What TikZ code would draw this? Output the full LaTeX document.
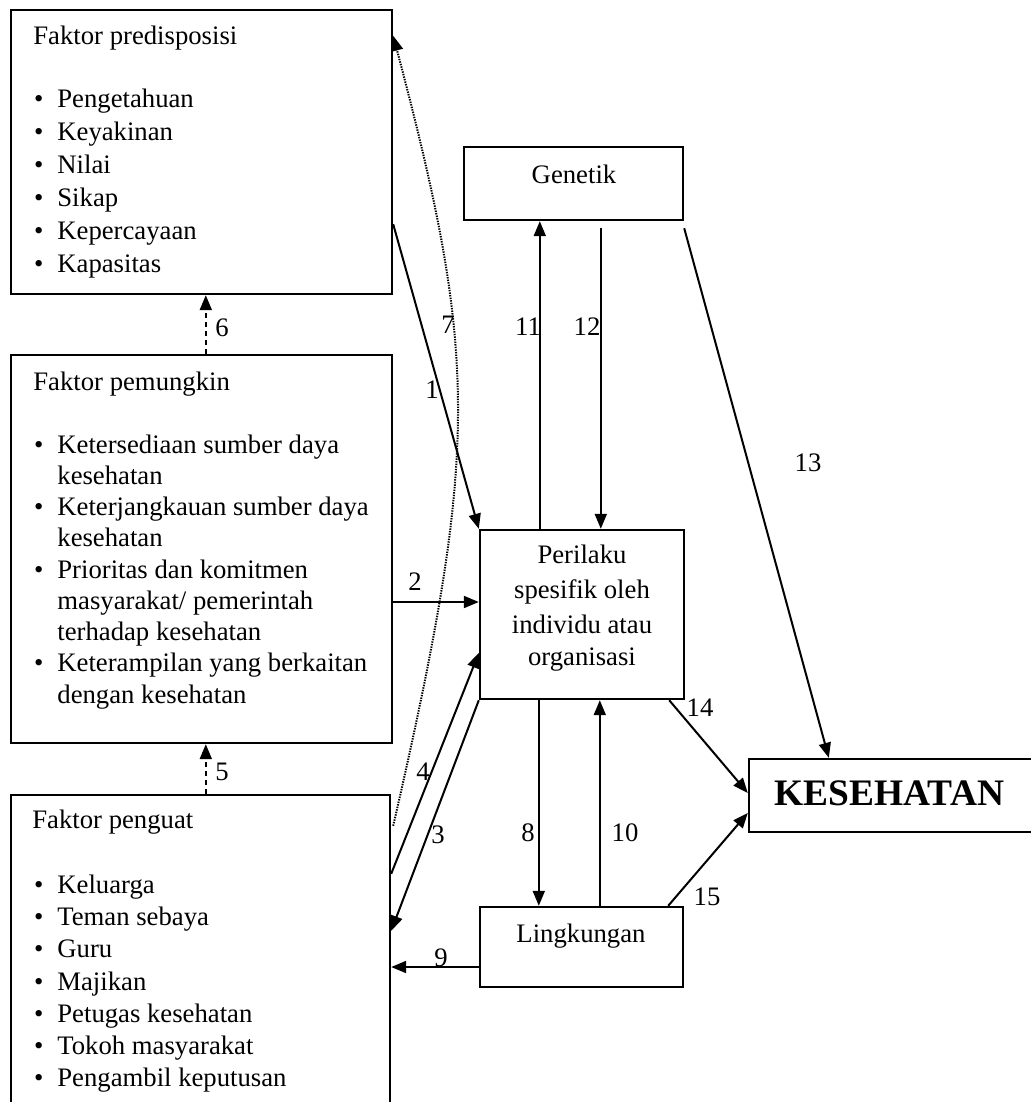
\documentclass[tikz,border=0pt]{standalone}
\usepackage{fontspec}
\setmainfont{Liberation Serif}
\usetikzlibrary{arrows.meta,calc}
\tikzset{
  box/.style={draw, line width=1.2pt, rectangle, inner sep=0pt},
  txt/.style={inner sep=0pt, font=\fontsize{13.35}{16}\selectfont},
  lbl/.style={inner sep=0pt, font=\fontsize{13.35}{16}\selectfont},
  conn/.style={line width=1pt, -{Triangle[length=7.5pt,width=6pt]}},
  dashconn/.style={conn, dash pattern=on 2.5pt off 2pt},
  dotconn/.style={line width=1pt, dash pattern=on 0.7pt off 0.6pt, -{Triangle[length=7.5pt,width=6pt]}},
}
\newcommand{\bul}{\llap{\textbullet\hspace{7pt}}}
\begin{document}
\begin{tikzpicture}[x=0.5pt,y=-0.5pt]
\useasboundingbox (0,0) rectangle (1031,1102);
\fill[white] (0,0) rectangle (1031,1102);
\clip (0,0) rectangle (1031,1102);

% boxes
\node[box, minimum width=190.5pt, minimum height=142pt] (pred) at (201.5,152) {};
\node[box, minimum width=190.5pt, minimum height=194pt] (pem) at (201.5,549) {};
\node[box, minimum width=189.5pt, minimum height=160pt] (peng) at (200.5,955) {};
\node[box, minimum width=109.5pt, minimum height=36.5pt] (gen) at (573.5,183.5) {};
\node[box, minimum width=102pt, minimum height=84.5pt] (per) at (582,614.5) {};
\node[box, minimum width=101.5pt, minimum height=40pt] (ling) at (581.5,947) {};
\node[box, minimum width=148pt, minimum height=36.5pt] (kes) at (897,795.5) {};

% predisposing factors
\node[txt, anchor=base west] (predh) at (33,45) {Faktor predisposisi};
\foreach \t [count=\i] in {Pengetahuan, Keyakinan, Nilai, Sikap, Kepercayaan, Kapasitas}
  \node[txt, anchor=base west] (pred\i) at (57,{108+32.8*(\i-1)}) {\bul\t};

% enabling factors
\node[txt, anchor=base west] (pemh) at (33,390) {Faktor pemungkin};
\foreach \b/\t [count=\i] in {1/{Ketersediaan sumber daya}, 0/{kesehatan},
    1/{Keterjangkauan sumber daya}, 0/{kesehatan}, 1/{Prioritas dan komitmen},
    0/{masyarakat/ pemerintah}, 0/{terhadap kesehatan},
    1/{Keterampilan yang berkaitan}, 0/{dengan kesehatan}}
  \node[txt, anchor=base west] (pem\i) at (57,{453+31.25*(\i-1)}) {\ifnum\b=1 \bul\fi\t};

% reinforcing factors
\node[txt, anchor=base west] (pengh) at (32,828) {Faktor penguat};
\foreach \t [count=\i] in {Keluarga, Teman sebaya, Guru, Majikan, Petugas kesehatan,
    Tokoh masyarakat, Pengambil keputusan}
  \node[txt, anchor=base west] (peng\i) at (57,{893+32.33*(\i-1)}) {\bul\t};

% other texts
\node[txt, anchor=base] (gent) at (574,183) {Genetik};
\node[txt, anchor=base] (per1) at (582,563) {Perilaku};
\node[txt, anchor=base] (per2) at (582,598) {spesifik oleh};
\node[txt, anchor=base] (per3) at (582,633) {individu atau};
\node[txt, anchor=base] (per4) at (582,665) {organisasi};
\node[txt, anchor=base] (lingt) at (581,942) {Lingkungan};
\node[inner sep=0pt, anchor=base, font=\fontsize{18.7}{22}\selectfont\bfseries] (kest) at (889.5,805) {KESEHATAN};

% connectors
\draw[conn] ($(pred.south east)+(0,-71)$) -- (per.north west);
\coordinate (p2e) at ($(per.west)+(0,-12.5)$);
\draw[conn] (pem.east |- p2e) -- (p2e);
\draw[conn] (per.south west) -- ($(peng.north east)+(0,137)$);
\draw[conn] ($(peng.north east)+(0,80)$) -- ($(per.west)+(0,38.5)$);
\draw[dashconn] ($(peng.north west)+(196,0)$) -- ($(pem.south west)+(196,0)$);
\draw[dashconn] ($(pem.north west)+(196,0)$) -- ($(pred.south west)+(196,0)$);
\draw[dotconn] ($(peng.north east)+(2,32)$) .. controls (480,448) and (478,357) .. ($(pred.north east)+(0,27)$);
\coordinate (p8) at ($(per.south west)+(60,0)$);
\draw[conn] (p8) -- (p8 |- ling.north);
\coordinate (p9) at ($(ling.west)+(0,20)$);
\draw[conn] (p9) -- (peng.east |- p9);
\coordinate (p10) at ($(per.south west)+(121,0)$);
\draw[conn] (p10 |- ling.north) -- (p10);
\coordinate (p11) at ($(per.north west)+(61,0)$);
\draw[conn] (p11) -- (p11 |- gen.south);
\coordinate (p12) at ($(per.north west)+(122,0)$);
\draw[conn] ($(p12 |- gen.south)+(0,7)$) -- (p12);
\draw[conn] ($(gen.south east)+(0,7)$) -- ($(kes.north west)+(81,0)$);
\draw[conn] ($(per.south east)+(-16,0)$) -- ($(kes.west)+(0,-2.5)$);
\draw[conn] ($(ling.north east)+(-16,0)$) -- ($(kes.west)+(0,17.5)$);

% connector numbers
\node[lbl] (n1) at (432,390) {1};
\node[lbl] (n2) at (415,582) {2};
\node[lbl] (n3) at (438,835) {3};
\node[lbl] (n4) at (423,772) {4};
\node[lbl] (n5) at (222,772) {5};
\node[lbl] (n6) at (222,328) {6};
\node[lbl] (n7) at (448,325) {7};
\node[lbl] (n8) at (528,833) {8};
\node[lbl] (n9) at (441,958) {9};
\node[lbl] (n10) at (625,833) {10};
\node[lbl] (n11) at (528,327) {11};
\node[lbl] (n12) at (587,327) {12};
\node[lbl] (n13) at (808,463) {13};
\node[lbl] (n14) at (700,708) {14};
\node[lbl] (n15) at (707,897) {15};
\end{tikzpicture}
\end{document}
